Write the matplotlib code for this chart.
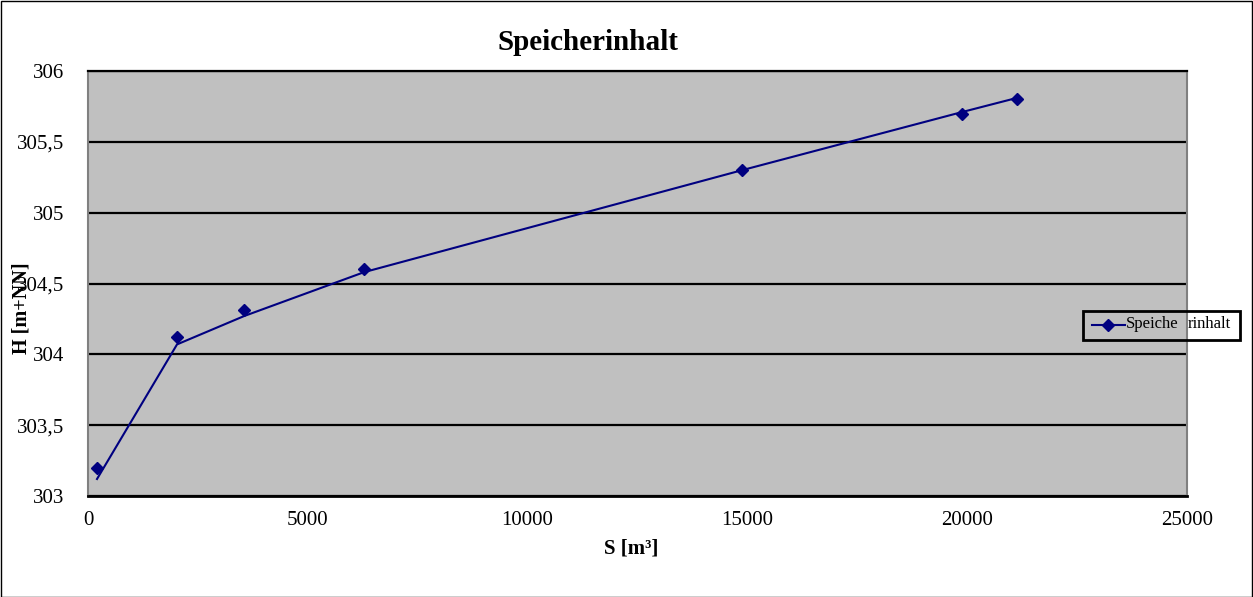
import matplotlib
matplotlib.use("Agg")
import matplotlib.pyplot as plt
from matplotlib.lines import Line2D
from matplotlib.patches import Rectangle
from matplotlib.ticker import FuncFormatter

# Speicherinhalt: Volumen S gegen Wasserspiegel H
S = [205, 2025, 3550, 6280, 14880, 19880, 21130]
H = [303.2, 304.12, 304.31, 304.6, 305.3, 305.7, 305.8]
# geglaettete Verbindungslinie (wie im Diagramm)
H_linie = [303.12, 304.07, 304.27, 304.58, 305.3, 305.71, 305.81]

xticks = [0, 5000, 10000, 15000, 20000, 25000]
yticks = [303, 303.5, 304, 304.5, 305, 305.5, 306]

W, Hpx = 1253, 597
plt.rcParams['font.family'] = ['Liberation Serif', 'DejaVu Serif']

fig = plt.figure(figsize=(W / 100, Hpx / 100), dpi=100)
ax = fig.add_axes([88 / W, 1 - 496 / Hpx, 1099 / W, 425 / Hpx])
ax.set_facecolor('#C0C0C0')

navy = '#000080'
ax.plot(S, H_linie, color=navy, lw=1.5, zorder=3)
ax.plot(S, H, linestyle='none', marker='D', markersize=6.5, color=navy, zorder=4)

ax.set_xlim(0, 25000)
ax.set_ylim(303, 306)
ax.set_xticks(xticks)
ax.set_yticks(yticks)
ax.yaxis.set_major_formatter(FuncFormatter(lambda v, p: ('%g' % v).replace('.', ',')))
ax.tick_params(length=0, labelsize=15)
ax.tick_params(axis='y', pad=17)
ax.tick_params(axis='x', pad=11)
ax.grid(axis='y', color='black', lw=1.6)
ax.set_axisbelow(True)

for s in ['left', 'right']:
    ax.spines[s].set_color('#808080')
    ax.spines[s].set_linewidth(1.5)
ax.spines['top'].set_color('black')
ax.spines['top'].set_linewidth(1.6)
ax.spines['bottom'].set_color('black')
ax.spines['bottom'].set_linewidth(2)

fig.text(588 / W, 1 - 42 / Hpx, 'Speicherinhalt', ha='center', va='center',
         fontsize=21, fontweight='bold')
fig.text(631 / W, 1 - 549 / Hpx, 'S [m³]', ha='center', va='center',
         fontsize=15, fontweight='bold')
fig.text(22 / W, 1 - 308 / Hpx, 'H [m+NN]', ha='center', va='center',
         fontsize=14.5, fontweight='bold', rotation=90)

# Legende
fig.patches.append(Rectangle((1083 / W, 1 - 340 / Hpx), 157 / W, 29 / Hpx,
                             transform=fig.transFigure, fill=False,
                             edgecolor='black', lw=2, zorder=5))
fig.add_artist(Line2D([1092 / W, 1108 / W, 1125 / W], [1 - 325 / Hpx] * 3,
                      color=navy, lw=1.5, marker='D', markersize=6.5,
                      markevery=[1], transform=fig.transFigure))
fig.text(1126 / W, 1 - 324 / Hpx, 'Speiche', ha='left', va='center', fontsize=12)
fig.text(1188 / W, 1 - 324 / Hpx, 'rinhalt', ha='left', va='center', fontsize=12)

# Rahmen um das ganze Diagramm
fig.patches.append(Rectangle((0.5 / W, 0.5 / Hpx), (W - 1.5) / W, (Hpx - 1.5) / Hpx,
                             transform=fig.transFigure, fill=False,
                             edgecolor='black', lw=1))

fig.savefig('out.png', dpi=100)
